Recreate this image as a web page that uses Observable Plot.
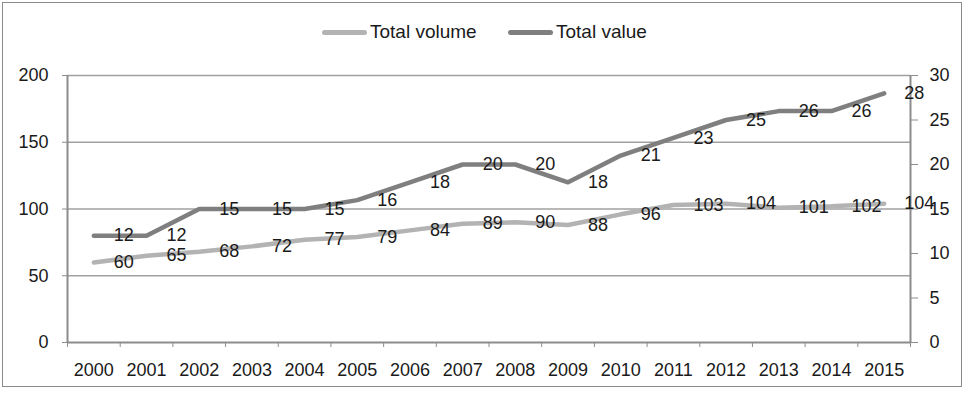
<!DOCTYPE html>
<html>
<head>
<meta charset="utf-8">
<script src="https://cdn.jsdelivr.net/npm/d3@7"></script>
<script src="https://cdn.jsdelivr.net/npm/@observablehq/plot@0.6"></script>
<style>
  body { margin: 0; background: #fff; font-family: "Liberation Sans", Arial, sans-serif; }
  #wrap { position: relative; width: 965px; height: 395px; overflow: hidden; }
  #frame { position: absolute; left: 2px; top: 2px; width: 958px; height: 383px; border: 1.5px solid #8a8a8a; pointer-events: none; }
  #legend { position: absolute; left: 0; top: 0; width: 965px; height: 50px; }
  .item { position: absolute; top: 21px; height: 22px; display: flex; align-items: center; font-size: 19px; color: #1a1a1a; }
  .sw { width: 45px; height: 5px; border-radius: 3px; margin-right: 3px; }
  #chart { position: absolute; left: 0; top: 50px; }
</style>
</head>
<body>
<div id="wrap">
  <div id="legend">
    <div class="item" style="left:322px"><span class="sw" style="background:#b3b3b3"></span>Total volume</div>
    <div class="item" style="left:508px"><span class="sw" style="background:#7f7f7f"></span>Total value</div>
  </div>
  <div id="chart"></div>
  <div id="frame"></div>
</div>
<script>
const years = [2000,2001,2002,2003,2004,2005,2006,2007,2008,2009,2010,2011,2012,2013,2014,2015];
const totalVolume = [60,65,68,72,77,79,84,89,90,88,96,103,104,101,102,104];
const totalValue = [12,12,15,15,15,16,18,20,20,18,21,23,25,26,26,28];
const leftTicks = [0,50,100,150,200];
const rightTicks = [0,5,10,15,20,25,30];
const leftMax = 200, rightMax = 30;

const volData = years.map((y, i) => ({year: y, v: totalVolume[i]}));
const valData = years.map((y, i) => ({year: y, v: totalValue[i]}));
const toLeft = v => v * leftMax / rightMax;
const bounds = [years[0] - 0.5, ...years.map(y => y + 0.5)];
const xDomain = [years[0] - 0.5, years[years.length - 1] + 0.5];

const axisColor = "#8c8c8c";
const gridColor = "#a0a0a0";
const textColor = "#1a1a1a";

const chart = Plot.plot({
  width: 965,
  height: 345,
  marginTop: 25,
  marginBottom: 53,
  marginLeft: 67,
  marginRight: 55,
  style: {fontFamily: "'Liberation Sans', Arial, sans-serif", fontSize: "18px", color: textColor, background: "transparent"},
  x: {type: "linear", domain: xDomain},
  y: {domain: [0, leftMax]},
  marks: [
    Plot.ruleY(leftTicks.filter(t => t > 0), {stroke: gridColor, strokeWidth: 1.5}),
    Plot.ruleX([xDomain[0]], {stroke: axisColor, strokeWidth: 2}),
    Plot.ruleX([xDomain[1]], {stroke: axisColor, strokeWidth: 2}),
    Plot.ruleY([0], {stroke: axisColor, strokeWidth: 2}),
    Plot.axisY({ticks: leftTicks, tickSize: 5, tickPadding: 14, stroke: axisColor, fill: textColor, label: null}),
    Plot.axisY({anchor: "right", ticks: rightTicks.map(toLeft), tickFormat: d => String(Math.round(d * rightMax / leftMax)), tickSize: 7, tickPadding: 12, stroke: axisColor, fill: textColor, label: null}),
    Plot.axisX({ticks: years, tickFormat: d => String(d), tickSize: 0, tickPadding: 21, fill: textColor, label: null}),
    Plot.axisX({ticks: bounds, tickFormat: () => "", tickSize: 5, stroke: axisColor, label: null}),
    Plot.lineY(volData, {x: "year", y: "v", stroke: "#b3b3b3", strokeWidth: 4.5}),
    Plot.lineY(valData, {x: "year", y: d => toLeft(d.v), stroke: "#7f7f7f", strokeWidth: 4.5}),
    Plot.text(volData, {x: "year", y: "v", text: d => String(d.v), dx: 20, textAnchor: "start", fill: textColor}),
    Plot.text(valData, {x: "year", y: d => toLeft(d.v), text: d => String(d.v), dx: 20, textAnchor: "start", fill: textColor})
  ]
});
document.getElementById("chart").appendChild(chart);
</script>
</body>
</html>
